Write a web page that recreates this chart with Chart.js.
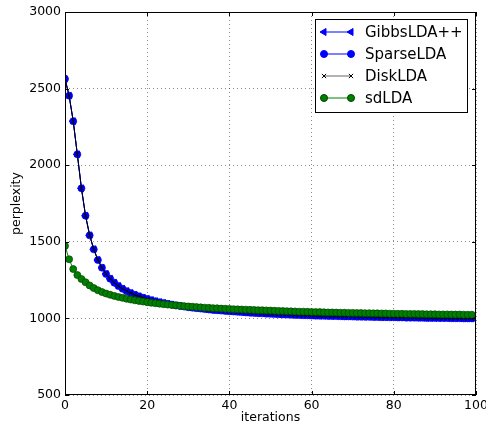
<!DOCTYPE html>
<html>
<head>
<meta charset="utf-8">
<script src="https://cdn.jsdelivr.net/npm/chart.js@4.4.1/dist/chart.umd.min.js"></script>
<style>
  html, body { margin: 0; padding: 0; background: #fff; }
  #wrap { width: 486px; height: 434px; }
</style>
</head>
<body>
<div id="wrap"><canvas id="chart" width="486" height="434"></canvas></div>
<script>
// ---- data ----
const iterations = Array.from({ length: 100 }, (_, i) => i);

// GibbsLDA++, SparseLDA and DiskLDA sit on top of each other in the picture
const gibbsLDA = [
  2563, 2454, 2287, 2071, 1849, 1670, 1542, 1451, 1381, 1331,
  1290, 1259, 1233, 1211, 1193, 1178, 1165, 1154, 1144, 1135,
  1127, 1119, 1112, 1106, 1100, 1095, 1090, 1085, 1081, 1077,
  1073, 1070, 1067, 1064, 1061, 1058, 1055, 1053, 1051, 1049,
  1047, 1045, 1043, 1041, 1039, 1037, 1036, 1034, 1033, 1031,
  1030, 1029, 1027, 1026, 1025, 1024, 1023, 1022, 1021, 1020,
  1019, 1018, 1017, 1017, 1016, 1015, 1015, 1014, 1013, 1013,
  1012, 1011, 1011, 1010, 1010, 1009, 1009, 1008, 1008, 1007,
  1007, 1006, 1006, 1005, 1005, 1005, 1004, 1004, 1003, 1003,
  1003, 1002, 1002, 1002, 1001, 1001, 1001, 1000, 1000, 1000
];
const sparseLDA = gibbsLDA.slice();
const diskLDA = gibbsLDA.slice();

const sdLDA = [
  1473, 1386, 1322, 1283, 1257, 1236, 1215, 1198, 1184, 1172,
  1162, 1154, 1147, 1140, 1134, 1128, 1123, 1118, 1114, 1110,
  1106, 1102, 1099, 1096, 1093, 1090, 1087, 1085, 1082, 1080,
  1078, 1076, 1074, 1072, 1070, 1069, 1067, 1066, 1064, 1063,
  1062, 1060, 1059, 1058, 1057, 1056, 1055, 1054, 1053, 1052,
  1051, 1050, 1049, 1048, 1047, 1046, 1045, 1044, 1044, 1043,
  1042, 1041, 1041, 1040, 1039, 1039, 1038, 1037, 1037, 1036,
  1036, 1035, 1035, 1034, 1034, 1033, 1033, 1032, 1032, 1031,
  1031, 1030, 1030, 1029, 1029, 1029, 1028, 1028, 1027, 1027,
  1027, 1026, 1026, 1026, 1025, 1025, 1025, 1024, 1024, 1024
];

const xTicks = [0, 20, 40, 60, 80, 100];
const yTicks = [500, 1000, 1500, 2000, 2500, 3000];

const FONT = 'DejaVu Sans';

function toXY(values) {
  return values.map((v, i) => ({ x: iterations[i], y: v }));
}

// matplotlib-like frame with inward ticks, drawn above the lines
const framePlugin = {
  id: 'frame',
  afterDatasetsDraw(chart) {
    const { ctx, chartArea: a, scales } = chart;
    ctx.save();
    ctx.strokeStyle = '#000';
    ctx.lineWidth = 1;
    ctx.strokeRect(a.left + 0.5, a.top + 0.5, a.right - a.left - 1, a.bottom - a.top - 1);
    ctx.beginPath();
    xTicks.forEach(t => {
      const px = Math.round(scales.x.getPixelForValue(t)) + 0.5;
      ctx.moveTo(px, a.bottom); ctx.lineTo(px, a.bottom - 4);
      ctx.moveTo(px, a.top); ctx.lineTo(px, a.top + 4);
    });
    yTicks.forEach(t => {
      const py = Math.round(scales.y.getPixelForValue(t)) + 0.5;
      ctx.moveTo(a.left, py); ctx.lineTo(a.left + 4, py);
      ctx.moveTo(a.right, py); ctx.lineTo(a.right - 4, py);
    });
    ctx.stroke();
    ctx.restore();
  }
};

// legend box in the upper right, like the matplotlib one
const legendPlugin = {
  id: 'boxLegend',
  afterDraw(chart) {
    const { ctx } = chart;
    const drawPoint = Chart.helpers.drawPoint;
    const box = { x: 315.5, y: 19.5, w: 152, h: 93 };
    ctx.save();
    ctx.fillStyle = '#fff';
    ctx.strokeStyle = '#000';
    ctx.lineWidth = 1;
    ctx.fillRect(box.x, box.y, box.w, box.h);
    ctx.strokeRect(box.x, box.y, box.w, box.h);
    ctx.font = '15px "' + FONT + '"';
    ctx.textBaseline = 'middle';
    ctx.textAlign = 'left';
    chart.data.datasets.forEach((ds, i) => {
      const y = 32 + i * 22;
      ctx.strokeStyle = ds.legendLine || ds.borderColor;
      ctx.lineWidth = 1;
      ctx.beginPath();
      ctx.moveTo(324, y); ctx.lineTo(351, y);
      ctx.stroke();
      [324, 351].forEach(x => {
        ctx.fillStyle = ds.pointBackgroundColor;
        ctx.strokeStyle = ds.pointBorderColor;
        drawPoint(ctx, {
          pointStyle: ds.pointStyle,
          radius: ds.pointRadius,
          rotation: ds.pointRotation || 0,
          borderWidth: ds.pointBorderWidth
        }, x, y);
      });
      ctx.fillStyle = '#000';
      ctx.fillText(ds.label, 365, y + 1);
    });
    ctx.restore();
  }
};

const gridStyle = {
  color: 'rgba(0,0,0,0.45)',
  lineWidth: 1,
  drawTicks: false
};

new Chart(document.getElementById('chart'), {
  type: 'line',
  data: {
    datasets: [
      {
        label: 'GibbsLDA++',
        data: toXY(gibbsLDA),
        borderColor: '#0000ff',
        borderWidth: 1,
        pointStyle: 'triangle',
        pointRotation: -90,
        pointRadius: 4,
        pointBackgroundColor: '#0000ff',
        pointBorderColor: '#0000ff',
        pointBorderWidth: 1,
        order: 3
      },
      {
        label: 'SparseLDA',
        data: toXY(sparseLDA),
        borderColor: '#0000ff',
        borderWidth: 1,
        pointStyle: 'circle',
        pointRadius: 3.5,
        pointBackgroundColor: '#0000ff',
        pointBorderColor: '#0000ff',
        pointBorderWidth: 0.7,
        order: 2
      },
      {
        label: 'DiskLDA',
        data: toXY(diskLDA),
        borderColor: '#000',
        legendLine: '#666',
        borderWidth: 1,
        pointStyle: 'crossRot',
        pointRadius: 3,
        pointBackgroundColor: '#000',
        pointBorderColor: '#000',
        pointBorderWidth: 0.8,
        order: 1
      },
      {
        label: 'sdLDA',
        data: toXY(sdLDA),
        borderColor: '#008000',
        borderWidth: 1,
        pointStyle: 'circle',
        pointRadius: 3.5,
        pointBackgroundColor: '#008000',
        pointBorderColor: '#004000',
        pointBorderWidth: 0.7,
        order: 0
      }
    ]
  },
  options: {
    responsive: false,
    animation: false,
    clip: 0,
    layout: { padding: { top: 12, right: 10, bottom: 0, left: 0 } },
    plugins: {
      legend: { display: false },
      tooltip: { enabled: false }
    },
    elements: { line: { tension: 0 } },
    scales: {
      x: {
        type: 'linear',
        min: 0,
        max: 100,
        afterBuildTicks: s => { s.ticks = xTicks.map(v => ({ value: v })); },
        grid: { ...gridStyle },
        border: { display: false, dash: [1, 3] },
        ticks: {
          color: '#000', padding: 3, maxRotation: 0,
          font: { family: FONT, size: 12.5 },
          callback: v => String(v)
        },
        title: {
          display: true,
          text: 'iterations',
          color: '#000',
          padding: { top: 9, bottom: 9 },
          font: { family: FONT, size: 12.5 }
        },
        afterFit: s => { s.height = 39; s.paddingLeft = 0; s.paddingRight = 0; }
      },
      y: {
        type: 'linear',
        min: 500,
        max: 3000,
        afterBuildTicks: s => { s.ticks = yTicks.map(v => ({ value: v })); },
        grid: { ...gridStyle },
        border: { display: false, dash: [1, 3] },
        ticks: {
          color: '#000', padding: 4,
          font: { family: FONT, size: 12.5 },
          callback: v => String(v)
        },
        title: {
          display: true,
          text: 'perplexity',
          color: '#000',
          padding: { top: 9, bottom: 9 },
          font: { family: FONT, size: 12.5 }
        },
        afterFit: s => { s.width = 65; s.paddingTop = 0; s.paddingBottom = 0; }
      }
    }
  },
  plugins: [framePlugin, legendPlugin]
});
</script>
</body>
</html>
